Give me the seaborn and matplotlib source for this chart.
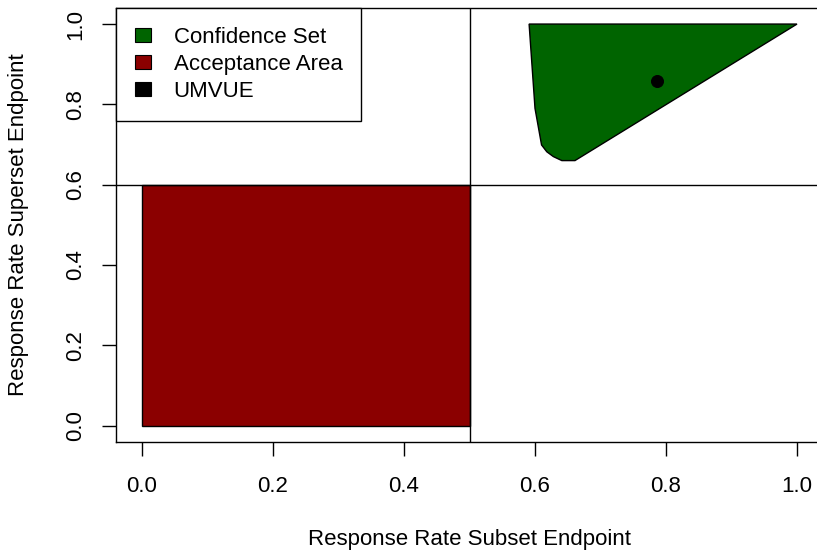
import matplotlib
matplotlib.use("Agg")
import matplotlib.pyplot as plt
import seaborn as sns
import pandas as pd
from matplotlib.patches import Patch

# ---- data ----
conf_x = [0.591, 1.000, 0.661, 0.641, 0.628, 0.618, 0.610, 0.600]
conf_y = [1.000, 1.000, 0.660, 0.660, 0.670, 0.682, 0.699, 0.790]
accept_x = [0.0, 0.5, 0.5, 0.0]
accept_y = [0.0, 0.0, 0.6, 0.6]
umvue_x = [0.787]
umvue_y = [0.857]
thresh_x = 0.5
thresh_y = 0.6
ticks = [0.0, 0.2, 0.4, 0.6, 0.8, 1.0]
tick_labels = ["0.0", "0.2", "0.4", "0.6", "0.8", "1.0"]
legend_labels = ["Confidence Set", "Acceptance Area", "UMVUE"]
legend_colors = ["#006400", "#8B0000", "#000000"]

sns.set_theme(style="white")
plt.rcParams["font.family"] = ["Liberation Sans", "DejaVu Sans"]

W, H = 817, 552
fig = plt.figure(figsize=(W / 100, H / 100), dpi=100)
left, right, top, bottom = 115.8, 823.2, 8.0, 441.7
ax = fig.add_axes([left / W, (H - bottom) / H, (right - left) / W, (bottom - top) / H])

ax.fill(accept_x, accept_y, facecolor="#8B0000", edgecolor="black", linewidth=1.0, zorder=2)
ax.fill(conf_x, conf_y, facecolor="#006400", edgecolor="black", linewidth=1.0, zorder=2)
ax.axvline(thresh_x, color="black", linewidth=1.0, zorder=3)
ax.axhline(thresh_y, color="black", linewidth=1.0, zorder=3)

df = pd.DataFrame({"x": umvue_x, "y": umvue_y})
sns.scatterplot(data=df, x="x", y="y", ax=ax, color="black", s=75, edgecolor="black", zorder=4)

ax.set_xlim(-0.04, 1.04)
ax.set_ylim(-0.04, 1.04)
ax.set_xticks(ticks)
ax.set_xticklabels(tick_labels)
ax.set_yticks(ticks)
ax.set_yticklabels(tick_labels, rotation=90, va="center")

for s in ax.spines.values():
    s.set_visible(True)
    s.set_color("black")
    s.set_linewidth(1.0)

ax.tick_params(axis="both", direction="out", length=10, width=1.0, color="black",
               labelsize=16, labelcolor="black", bottom=True, left=True)
ax.tick_params(axis="x", pad=15)
ax.tick_params(axis="y", pad=11.5)

ax.set_xlabel("Response Rate Subset Endpoint", fontsize=16, color="black")
ax.set_ylabel("Response Rate Superset Endpoint", fontsize=16, color="black")
ax.xaxis.set_label_coords((470 - left) / (right - left), -(539 - bottom) / (bottom - top))
ax.xaxis.label.set_va("center")
ax.yaxis.set_label_coords(-(left - 19) / (right - left), 0.5)
ax.yaxis.label.set_va("center")

handles = [Patch(facecolor=c, edgecolor="black", linewidth=0.8) for c in legend_colors]
leg = ax.legend(handles, legend_labels, loc="upper left", bbox_to_anchor=(0, 1),
                borderaxespad=0, fancybox=False, framealpha=1, edgecolor="black",
                fontsize=16, labelcolor="black", handlelength=0.75, handleheight=0.55,
                handletextpad=1.0, borderpad=0.85, labelspacing=0.27)
leg.get_frame().set_linewidth(1.0)
leg.set_zorder(5)

fig.savefig("out.png", dpi=100, facecolor="white")
